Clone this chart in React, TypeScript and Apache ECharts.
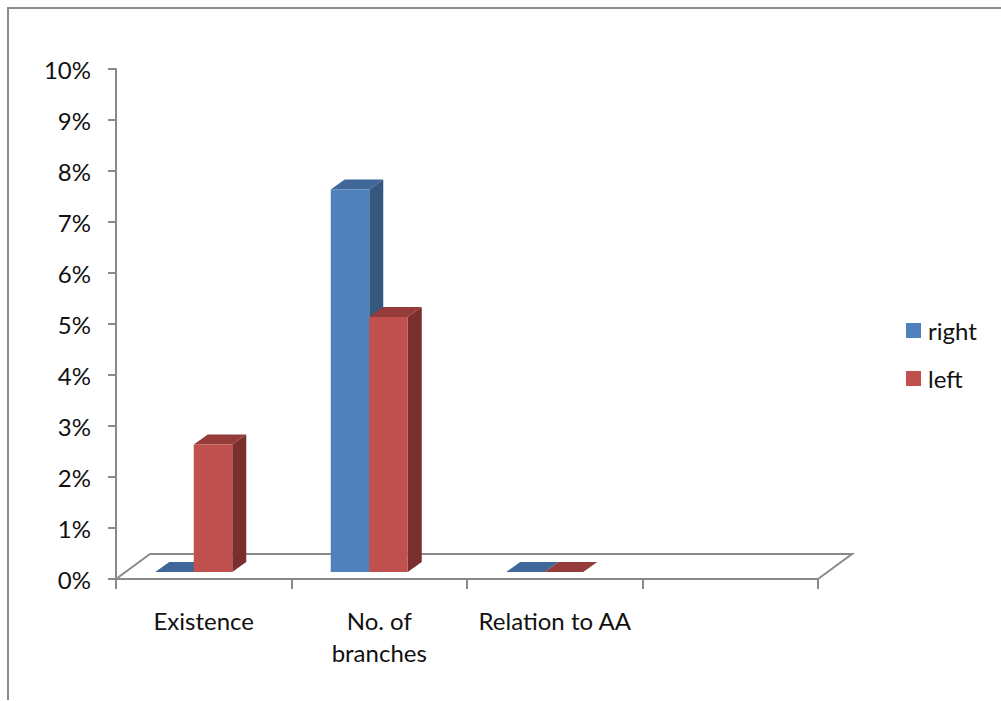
import React, { useEffect, useRef } from "react";
import * as echarts from "echarts";

const categories = ["Existence", "No. of\nbranches", "Relation to AA", ""];
const rightValues = [0, 7.5, 0];
const leftValues = [2.5, 5, 0];

const AXIS_GREY = "#8a8a8a";
const TEXT_COLOR = "#111111";
const FONT = "Lato, 'Open Sans', sans-serif";
const FONT_SIZE = 24;

// Pseudo-3D geometry, in pixels
const BAR_WIDTH = 38.5;
const DEPTH_X = 14;
const DEPTH_Y = 10;
const BASE_LIFT = 7;
const CLUSTER_SHIFT = -10;
const FLOOR_X = 34;
const FLOOR_Y = 25;

const poly = (points: number[][], fill: string) => ({
  type: "polygon",
  shape: { points },
  style: { fill, stroke: "none" },
});

// Draws one box of a cluster; side = -1 sits left of the cluster centre, 0 right of it.
const boxRenderer =
  (side: number, front: string, top: string, flank: string) =>
  (_params: any, api: any) => {
    const cat = api.value(0);
    const val = api.value(1);
    const [cx, y0] = api.coord([cat, 0]);
    const [, yv] = api.coord([cat, val]);
    const x0 = cx + CLUSTER_SHIFT + side * BAR_WIDTH;
    const x1 = x0 + BAR_WIDTH;
    const yb = y0 - BASE_LIFT;
    const yt = yv - BASE_LIFT;
    const children: any[] = [
      poly(
        [
          [x0, yt],
          [x0 + DEPTH_X, yt - DEPTH_Y],
          [x1 + DEPTH_X, yt - DEPTH_Y],
          [x1, yt],
        ],
        top
      ),
    ];
    if (val > 0) {
      children.push(
        poly(
          [
            [x1, yb],
            [x1 + DEPTH_X, yb - DEPTH_Y],
            [x1 + DEPTH_X, yt - DEPTH_Y],
            [x1, yt],
          ],
          flank
        ),
        poly(
          [
            [x0, yb],
            [x1, yb],
            [x1, yt],
            [x0, yt],
          ],
          front
        )
      );
    }
    return { type: "group", children };
  };

// Back and side edges of the chart floor, anchored on the plot rectangle.
const floorRenderer = (params: any) => {
  const { x, y, width, height } = params.coordSys;
  const yf = y + height;
  return {
    type: "polyline",
    shape: {
      points: [
        [x, yf],
        [x + FLOOR_X, yf - FLOOR_Y],
        [x + width + FLOOR_X, yf - FLOOR_Y],
        [x + width, yf],
      ],
    },
    style: { stroke: AXIS_GREY, lineWidth: 2, fill: "none" },
  };
};

export default function App() {
  const ref = useRef<HTMLDivElement>(null);

  useEffect(() => {
    document.body.style.margin = "0";
    document.body.style.overflow = "hidden";
    const chart = echarts.init(ref.current!, undefined, { renderer: "svg" });
    chart.setOption({
      animation: false,
      backgroundColor: "#ffffff",
      textStyle: { fontFamily: FONT },
      grid: { left: 116, top: 69, width: 702, height: 510, containLabel: false },
      legend: {
        orient: "vertical",
        left: 901,
        top: 311,
        itemWidth: 15,
        itemHeight: 15,
        itemGap: 19,
        icon: "rect",
        data: ["right", "left"],
        selectedMode: false,
        textStyle: {
          fontFamily: FONT,
          fontSize: FONT_SIZE,
          color: TEXT_COLOR,
          lineHeight: 29,
          padding: [0, 0, 0, 2],
        },
      },
      xAxis: {
        type: "category",
        data: categories,
        axisLine: { lineStyle: { color: AXIS_GREY, width: 2 } },
        axisTick: {
          show: true,
          alignWithLabel: false,
          interval: 0,
          length: 10,
          lineStyle: { color: AXIS_GREY, width: 2 },
        },
        axisLabel: {
          interval: 0,
          margin: 25,
          color: TEXT_COLOR,
          fontFamily: FONT,
          fontSize: FONT_SIZE,
          lineHeight: 32,
        },
      },
      yAxis: {
        type: "value",
        min: 0,
        max: 10,
        interval: 1,
        splitLine: { show: false },
        axisLine: { show: true, lineStyle: { color: AXIS_GREY, width: 2 } },
        axisTick: { show: true, length: 8, lineStyle: { color: AXIS_GREY, width: 2 } },
        axisLabel: {
          formatter: "{value}%",
          margin: 25,
          padding: [2, 0, 0, 0],
          color: TEXT_COLOR,
          fontFamily: FONT,
          fontSize: FONT_SIZE,
        },
      },
      series: [
        {
          name: "floor",
          type: "custom",
          data: [[0, 0]],
          silent: true,
          clip: false,
          renderItem: floorRenderer,
        },
        {
          name: "right",
          type: "custom",
          data: rightValues.map((v, i) => [i, v]),
          encode: { x: 0, y: 1 },
          clip: false,
          itemStyle: { color: "#4f81bd" },
          renderItem: boxRenderer(-1, "#4f81bd", "#3f6797", "#35587f"),
        },
        {
          name: "left",
          type: "custom",
          data: leftValues.map((v, i) => [i, v]),
          encode: { x: 0, y: 1 },
          clip: false,
          itemStyle: { color: "#c0504d" },
          renderItem: boxRenderer(0, "#c0504d", "#953c3a", "#7a2f2e"),
        },
      ],
      graphic: [
        {
          type: "polyline",
          silent: true,
          shape: {
            points: [
              [8, 700],
              [8, 8],
              [1001, 8],
            ],
          },
          style: { stroke: "#8c8c8c", lineWidth: 2, fill: "none" },
        },
      ],
    });
    return () => chart.dispose();
  }, []);

  return <div ref={ref} style={{ width: 1001, height: 701 }} />;
}
